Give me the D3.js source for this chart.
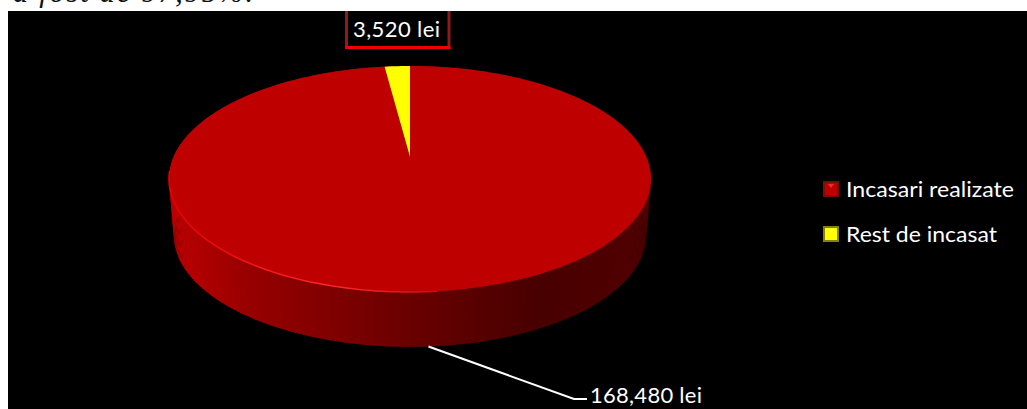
<!DOCTYPE html>
<html>
<head>
<meta charset="utf-8">
<script src="https://cdn.jsdelivr.net/npm/d3@7"></script>
<style>
  html, body { margin: 0; padding: 0; background: #fff; overflow: hidden; }
  svg { display: block; }
  text { font-family: Lato, "Open Sans", sans-serif; }
</style>
</head>
<body>
<div id="chart"></div>
<script>
const categories = ['Incasari realizate', 'Rest de incasat'];
const values = [168480, 3520];
const valueLabels = ['168,480 lei', '3,520 lei'];
const colors = ['#bf0000', '#ffff00'];

const width = 1027, height = 409;

const svg = d3.select('#chart')
    .append('svg')
    .attr('width', width)
    .attr('height', height);

// the page text above the pasted chart, cut off by the top of the picture
svg.append('text')
    .attr('x', 13)
    .attr('y', 2)
    .attr('textLength', 240)
    .style('font-family', '"Liberation Serif", serif')
    .style('font-style', 'italic')
    .style('font-size', '30px')
    .attr('fill', '#111')
    .text('a fost de 97,95%.');

svg.append('rect')
    .attr('x', 8)
    .attr('y', 11)
    .attr('width', width - 8)
    .attr('height', height - 11)
    .attr('fill', '#000');

// perspective view of the pie disc: circle coords go through a homography
const cx = 410, persp = -0.1947, kx = 236.4, y0 = 157, ky = 78.15;

function project(angle, wall) {
    const u = Math.sin(angle), v = -Math.cos(angle), w = 1 + persp * v;
    const x = kx * u / w, y = (y0 + ky * v) / w;
    if (!wall) return [cx + x, y];
    // lower rim of the disc
    return [cx + x * 0.98, 235 + (y - 179) * 0.99];
}

const pie = d3.pie().sort(null).value(d => d);
const slices = pie(values);

const line = d3.line();
const step = Math.PI / 180;

function arcPoints(start, end, wall) {
    const pts = d3.range(start, end, step).map(a => project(a, wall));
    pts.push(project(end, wall));
    return pts;
}

// side wall, small bands shaded by their horizontal position
const wallColor = d3.scaleLinear()
    .domain([170, 250, 410, 540, 650])
    .range(['#c00000', '#980000', '#6a0000', '#480000', '#520000']);

const bands = d3.range(0, 2 * Math.PI, step);

svg.append('g')
    .selectAll('path')
    .data(bands)
    .join('path')
    .attr('d', a => line([
        project(a), project(a + step * 1.3),
        project(a + step * 1.3, true), project(a, true)
    ]) + 'Z')
    .attr('fill', a => wallColor(project(a, true)[0]));

// top face
svg.append('g')
    .selectAll('path')
    .data(slices)
    .join('path')
    .attr('d', d => line([[cx, y0], ...arcPoints(d.startAngle, d.endAngle)]) + 'Z')
    .attr('fill', (d, i) => colors[i]);

// light rim on the front left of the top face
const rim = svg.append('defs').append('linearGradient')
    .attr('id', 'rim')
    .attr('gradientUnits', 'userSpaceOnUse')
    .attr('x1', 170).attr('x2', 470).attr('y1', 0).attr('y2', 0);
rim.append('stop').attr('offset', '0').attr('stop-color', '#e80000');
rim.append('stop').attr('offset', '0.55').attr('stop-color', '#ff2a2a');
rim.append('stop').attr('offset', '1').attr('stop-color', '#c40000');

svg.append('path')
    .attr('d', line(arcPoints(Math.PI * 0.97, Math.PI * 1.46)))
    .attr('fill', 'none')
    .attr('stroke', 'url(#rim)')
    .attr('stroke-width', 1.5);

// leader line of the big slice, starts on the lower rim at the slice middle
const mid = (slices[0].startAngle + slices[0].endAngle) / 2;
const start = project(mid, true);

svg.append('path')
    .attr('d', line([start, [574, 399], [587, 399]]))
    .attr('fill', 'none')
    .attr('stroke', '#fff')
    .attr('stroke-width', 2);

svg.append('text')
    .attr('x', 590)
    .attr('y', 403)
    .attr('textLength', 112)
    .attr('fill', '#fff')
    .style('font-size', '22px')
    .text(valueLabels[0]);

// boxed label of the small slice
svg.append('path')
    .attr('d', 'M346.5,11V47.5H449V11')
    .attr('fill', 'none')
    .attr('stroke', '#8e1a1a')
    .attr('stroke-width', 3);

svg.append('line')
    .attr('x1', 345).attr('x2', 450.5)
    .attr('y1', 47.5).attr('y2', 47.5)
    .attr('stroke', '#f00000')
    .attr('stroke-width', 3);

svg.append('text')
    .attr('x', 353)
    .attr('y', 37)
    .attr('textLength', 87)
    .attr('fill', '#fff')
    .style('font-size', '22px')
    .text(valueLabels[1]);

// legend
const legendShade = ['#7e0a0a', '#83830a'];
const legendLight = ['#e83030', '#ffff50'];
const legendTextWidth = [168, 151];

const legend = svg.append('g')
    .selectAll('g')
    .data(categories)
    .join('g')
    .attr('transform', (d, i) => `translate(823, ${181 + i * 45})`);

legend.append('rect')
    .attr('width', 16)
    .attr('height', 16)
    .attr('fill', (d, i) => legendShade[i]);

legend.append('rect')
    .attr('x', 2)
    .attr('y', 2)
    .attr('width', 12)
    .attr('height', 12)
    .attr('fill', (d, i) => colors[i]);

legend.append('path')
    .attr('d', 'M5,3H11L8,7Z')
    .attr('fill', (d, i) => legendLight[i]);

legend.append('text')
    .attr('x', 23)
    .attr('y', 16)
    .attr('textLength', (d, i) => legendTextWidth[i])
    .attr('lengthAdjust', 'spacingAndGlyphs')
    .attr('fill', '#fff')
    .style('font-size', '21px')
    .text(d => d);
</script>
</body>
</html>
